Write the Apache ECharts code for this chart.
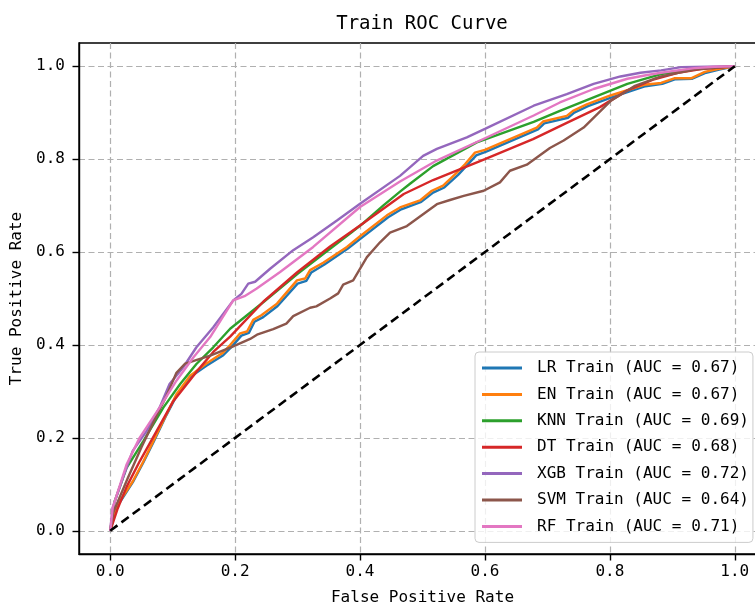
<!DOCTYPE html>
<html>
<head>
<meta charset="utf-8">
<script src="https://cdn.jsdelivr.net/npm/echarts@6/dist/echarts.min.js"></script>
<style>html,body{margin:0;padding:0;background:#fff;}#chart{width:755px;height:605px;}</style>
</head>
<body>
<div id="chart"></div>
<script>
const seriesNames = ['LR Train (AUC = 0.67)','EN Train (AUC = 0.67)','KNN Train (AUC = 0.69)','DT Train (AUC = 0.68)','XGB Train (AUC = 0.72)','SVM Train (AUC = 0.64)','RF Train (AUC = 0.71)'];
const seriesColors = ['#1f77b4','#ff7f0e','#2ca02c','#d62728','#9467bd','#8c564b','#e377c2'];
const tickValues = [0, 0.2, 0.4, 0.6, 0.8, 1.0];

const lrTrain = [[0,0],[0.01,0.05],[0.036,0.104],[0.053,0.147],[0.069,0.19],[0.09,0.249],[0.106,0.29],[0.128,0.331],[0.154,0.355],[0.181,0.378],[0.195,0.397],[0.21,0.42],[0.222,0.426],[0.231,0.45],[0.245,0.46],[0.268,0.484],[0.3,0.532],[0.314,0.538],[0.322,0.556],[0.343,0.573],[0.38,0.607],[0.402,0.63],[0.445,0.675],[0.466,0.692],[0.498,0.708],[0.517,0.728],[0.535,0.739],[0.557,0.766],[0.57,0.785],[0.586,0.808],[0.602,0.816],[0.685,0.864],[0.695,0.877],[0.733,0.889],[0.743,0.9],[0.765,0.914],[0.803,0.933],[0.857,0.957],[0.884,0.962],[0.905,0.972],[0.932,0.973],[0.954,0.986],[0.975,0.993],[1,1]];
const enTrain = [[0,0],[0.01,0.053],[0.036,0.106],[0.053,0.149],[0.069,0.193],[0.09,0.251],[0.106,0.294],[0.128,0.334],[0.154,0.36],[0.181,0.384],[0.192,0.4],[0.208,0.425],[0.219,0.429],[0.229,0.454],[0.242,0.464],[0.267,0.489],[0.299,0.539],[0.312,0.543],[0.32,0.561],[0.341,0.577],[0.379,0.611],[0.4,0.634],[0.443,0.679],[0.464,0.696],[0.496,0.711],[0.515,0.732],[0.533,0.743],[0.555,0.771],[0.568,0.789],[0.584,0.814],[0.6,0.82],[0.683,0.868],[0.693,0.881],[0.731,0.893],[0.741,0.904],[0.763,0.918],[0.801,0.937],[0.855,0.96],[0.882,0.964],[0.903,0.974],[0.93,0.974],[0.952,0.988],[0.973,0.994],[1,1]];
const knnTrain = [[0,0],[0.007,0.063],[0.026,0.135],[0.053,0.193],[0.085,0.265],[0.112,0.316],[0.138,0.359],[0.165,0.395],[0.192,0.435],[0.245,0.492],[0.299,0.552],[0.352,0.607],[0.384,0.64],[0.405,0.662],[0.437,0.7],[0.464,0.73],[0.48,0.747],[0.517,0.785],[0.587,0.836],[0.678,0.88],[0.72,0.904],[0.774,0.933],[0.828,0.962],[0.882,0.983],[0.935,0.994],[0.97,0.998],[1,1]];
const dtTrain = [[0,0],[0.012,0.048],[0.026,0.094],[0.047,0.149],[0.074,0.214],[0.101,0.279],[0.138,0.342],[0.165,0.385],[0.192,0.418],[0.245,0.493],[0.299,0.556],[0.352,0.612],[0.4,0.657],[0.47,0.725],[0.517,0.755],[0.6,0.8],[0.677,0.843],[0.731,0.878],[0.784,0.912],[0.828,0.948],[0.871,0.972],[0.909,0.986],[0.946,0.994],[1,1]];
const xgbTrain = [[0,0],[0.004,0.05],[0.02,0.113],[0.036,0.172],[0.058,0.214],[0.079,0.265],[0.095,0.316],[0.117,0.352],[0.138,0.395],[0.165,0.438],[0.197,0.496],[0.21,0.51],[0.221,0.532],[0.232,0.536],[0.256,0.564],[0.293,0.604],[0.325,0.632],[0.363,0.668],[0.4,0.704],[0.464,0.764],[0.501,0.807],[0.523,0.822],[0.571,0.847],[0.6,0.865],[0.678,0.915],[0.731,0.94],[0.774,0.962],[0.817,0.978],[0.849,0.986],[0.882,0.991],[0.914,0.998],[1,1]];
const svmTrain = [[0,0],[0.005,0.04],[0.028,0.113],[0.05,0.18],[0.075,0.25],[0.09,0.29],[0.106,0.34],[0.12,0.36],[0.16,0.377],[0.197,0.397],[0.224,0.413],[0.235,0.422],[0.261,0.434],[0.282,0.446],[0.293,0.462],[0.32,0.48],[0.33,0.483],[0.352,0.5],[0.365,0.511],[0.373,0.53],[0.389,0.539],[0.411,0.589],[0.432,0.621],[0.448,0.642],[0.475,0.656],[0.523,0.703],[0.544,0.712],[0.566,0.721],[0.598,0.732],[0.624,0.75],[0.64,0.775],[0.667,0.788],[0.704,0.824],[0.726,0.84],[0.758,0.868],[0.801,0.925],[0.839,0.957],[0.882,0.978],[0.935,0.993],[1,1]];
const rfTrain = [[0,0],[0.004,0.05],[0.026,0.142],[0.047,0.2],[0.079,0.265],[0.106,0.323],[0.133,0.373],[0.16,0.417],[0.197,0.496],[0.215,0.505],[0.234,0.521],[0.272,0.557],[0.325,0.611],[0.4,0.697],[0.464,0.752],[0.52,0.795],[0.6,0.845],[0.678,0.894],[0.72,0.922],[0.774,0.951],[0.828,0.973],[0.86,0.981],[0.882,0.986],[0.935,0.996],[0.968,0.999],[1,1]];
const diagonal = [[0,0],[1,1]];

const curves = [lrTrain, enTrain, knnTrain, dtTrain, xgbTrain, svmTrain, rfTrain];
const FONT = 'DejaVu Sans Mono';

const chart = echarts.init(document.getElementById('chart'), null, {renderer: 'canvas'});

const gridLine = {show: true, lineStyle: {color: '#b0b0b0', width: 1.2, type: [6, 3.5]}};
const fmt = v => v.toFixed(1);

const series = curves.map((d, i) => ({
  name: seriesNames[i], type: 'line', data: d, showSymbol: false, symbol: 'none',
  lineStyle: {color: seriesColors[i], width: 2.4}, itemStyle: {color: seriesColors[i]},
  z: 3 + i, silent: true
}));
series.push({name: 'diag', type: 'line', data: diagonal, showSymbol: false, symbol: 'none',
  lineStyle: {color: '#000', width: 2.6, type: [9, 5]}, z: 20, silent: true});

chart.setOption({
  animation: false,
  backgroundColor: '#fff',
  title: {text: 'Train ROC Curve', left: 422, top: 15, textAlign: 'center', padding: 0,
    textStyle: {fontFamily: FONT, fontSize: 19, fontWeight: 'normal', color: '#000'}},
  grid: {left: 79, top: 43, width: 687, height: 511, containLabel: false, outerBoundsMode: 'none',
    show: true, borderColor: '#000', borderWidth: 1.4, backgroundColor: 'transparent'},
  legend: {data: seriesNames, orient: 'vertical', left: 475, top: 352, padding: [8, 4, 8, 7],
    itemWidth: 40, itemHeight: 3, itemGap: 10.4, icon: 'rect',
    textStyle: {fontFamily: FONT, fontSize: 16, color: '#000', lineHeight: 16, padding: [0, 0, 0, 10]},
    backgroundColor: 'rgba(255,255,255,0.8)', borderColor: '#cccccc', borderWidth: 1, borderRadius: 4},
  xAxis: {type: 'value', min: -0.05, max: 1.05,
    name: 'False Positive Rate', nameLocation: 'middle', nameGap: 36,
    nameTextStyle: {fontFamily: FONT, fontSize: 16, color: '#000'},
    axisLine: {show: true, onZero: false, lineStyle: {color: '#000', width: 1.4}},
    axisTick: {show: true, length: 6.5, inside: false, customValues: tickValues, lineStyle: {color: '#000', width: 1.4}},
    axisLabel: {customValues: tickValues, formatter: fmt, margin: 10, fontFamily: FONT, fontSize: 16, color: '#000'},
    splitLine: gridLine},
  yAxis: {type: 'value', min: -0.05, max: 1.05,
    name: 'True Positive Rate', nameLocation: 'middle', nameGap: 51, nameRotate: 90,
    nameTextStyle: {fontFamily: FONT, fontSize: 16, color: '#000'},
    axisLine: {show: true, onZero: false, lineStyle: {color: '#000', width: 1.4}},
    axisTick: {show: true, length: 6.5, inside: false, customValues: tickValues, lineStyle: {color: '#000', width: 1.4}},
    axisLabel: {customValues: tickValues, formatter: fmt, margin: 14, fontFamily: FONT, fontSize: 16, color: '#000'},
    splitLine: gridLine},
  series: series
});
</script>
</body>
</html>
